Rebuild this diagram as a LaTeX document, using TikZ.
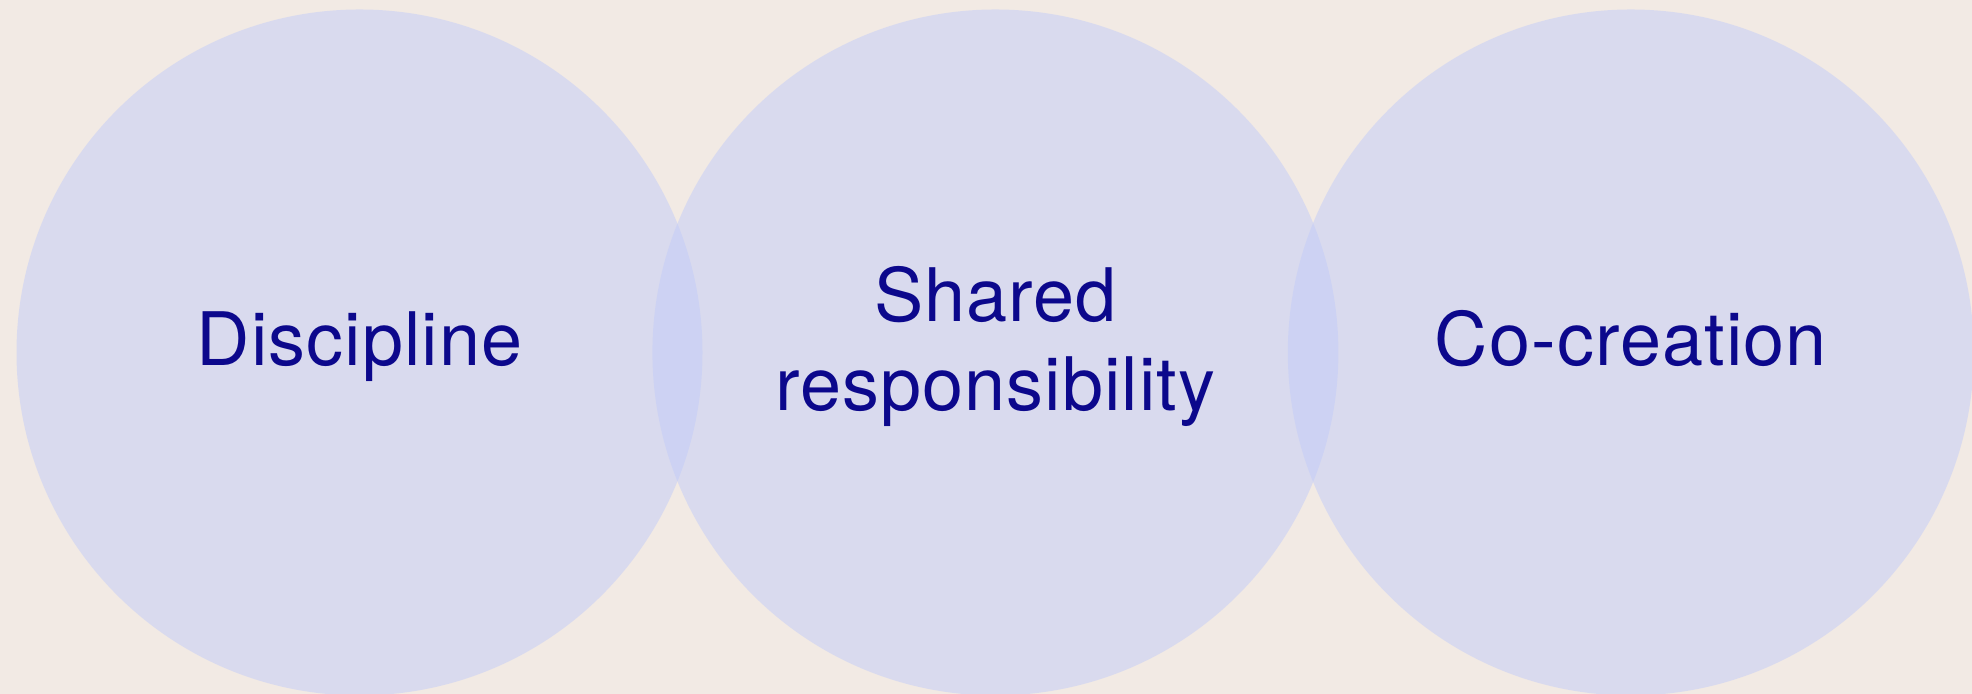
\documentclass[tikz,border=0pt]{standalone}
\usepackage{fontspec}
\setmainfont[LetterSpace=1.5]{TeX Gyre Heros}
\usetikzlibrary{positioning}

\definecolor{paper}{RGB}{242,234,228}
\definecolor{haze}{RGB}{194,204,248}
\definecolor{ink}{RGB}{12,8,140}

\tikzset{
  ring/.style={circle, inner sep=0pt, minimum size=6.86cm, fill=haze, fill opacity=0.5},
  word/.style={text=ink, align=center, inner sep=0pt,
    font=\fontsize{21}{25.3}\selectfont}
}

\begin{document}
\begin{tikzpicture}[]
\useasboundingbox (0,0) rectangle (19.72,6.94);
\fill[paper] (0,0) rectangle (19.72,6.94);

\node[ring] (disc) at (3.595,3.415) {};
\node[ring, right=-0.515cm of disc] (shared) {};
\node[ring, right=-0.52cm of shared] (cocre) {};

\node[word, anchor=base] (disclbl) at ([yshift=-0.135cm]disc.center) {Discipline};
\node[word] (sharedlbl) at ([yshift=0.06cm]shared.center) {Shared\\responsibility};
\node[word, anchor=base] (cocrelbl) at ([yshift=-0.135cm]cocre.center) {Co-creation};

\end{tikzpicture}
\end{document}
